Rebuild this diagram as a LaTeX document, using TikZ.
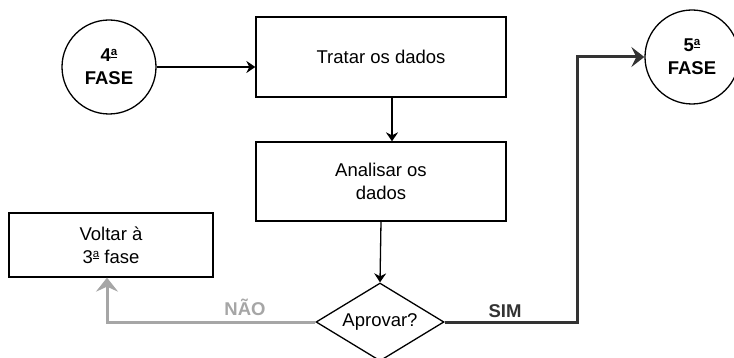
\documentclass[tikz,border=0pt]{standalone}
\usepackage{fontspec}
\setmainfont{Liberation Sans}
\usetikzlibrary{shapes.geometric,arrows.meta}
\definecolor{nogray}{HTML}{A6A6A6}
\definecolor{simdark}{HTML}{333333}
\newcommand\ordfa{\raisebox{0.62ex}{\scalebox{0.62}{\underline{a}}}}
\begin{document}
\begin{tikzpicture}[x=1pt,y=-1pt,
  font=\fontsize{18.5}{23}\selectfont,
  box/.style={draw, line width=1.3pt, minimum width=250pt, minimum height=80pt, inner sep=0pt, align=center},
  phase/.style={draw, circle, line width=1.3pt, minimum size=94pt, inner sep=0pt, align=center, font=\fontsize{18.5}{23}\selectfont\bfseries},
  decision/.style={draw, diamond, line width=1.3pt, aspect=1.64, minimum width=128pt, minimum height=78pt, inner sep=0pt},
  flow/.style={line width=1.3pt, -{Stealth[length=9pt,width=12pt,inset=3pt]}},
  noflow/.style={draw=nogray, line width=3pt, -{Stealth[length=14pt,width=22pt,inset=5pt]}},
  simflow/.style={draw=simdark, line width=3pt, -{Stealth[length=13pt,width=20pt,inset=5pt]}},
  lbl/.style={font=\fontsize{18.5}{23}\selectfont\bfseries}
]
\useasboundingbox (0,0) rectangle (734,358);
\fill[white] (0,0) rectangle (734,358);

\node[phase] (c4) at (109,67) {4\ordfa\\FASE};
\node[phase] (c5) at (692,57) {5\ordfa\\FASE};
\node[box] (tratar) at (381,57) {\raisebox{-5pt}{Tratar os dados}};
\node[box, minimum height=79pt] (analisar) at (381,181.5) {Analisar os\\dados};
\node[box, minimum width=204pt, minimum height=64pt] (voltar) at (111,245) {Voltar à\\3\ordfa{} fase};
\node[decision] (dia) at (380,322) {Aprovar?};

\coordinate (simx) at (577,57);

\draw[flow] (c4.east |- 0,67) -- (tratar.west |- 0,67);
\draw[flow] ([xshift=11pt]tratar.south) -- ([xshift=11pt]analisar.north);
\draw[flow] (analisar.south) -- (dia.north);
\draw[noflow] (dia.west) -| ([xshift=-4pt]voltar.south);
\draw[simflow] (dia.east) -| (simx) -- (c5.west);

\node[lbl, text=nogray] (nao) at (245,307) {NÃO};
\node[lbl, text=simdark] (sim) at (505,311) {SIM};
\end{tikzpicture}
\end{document}
